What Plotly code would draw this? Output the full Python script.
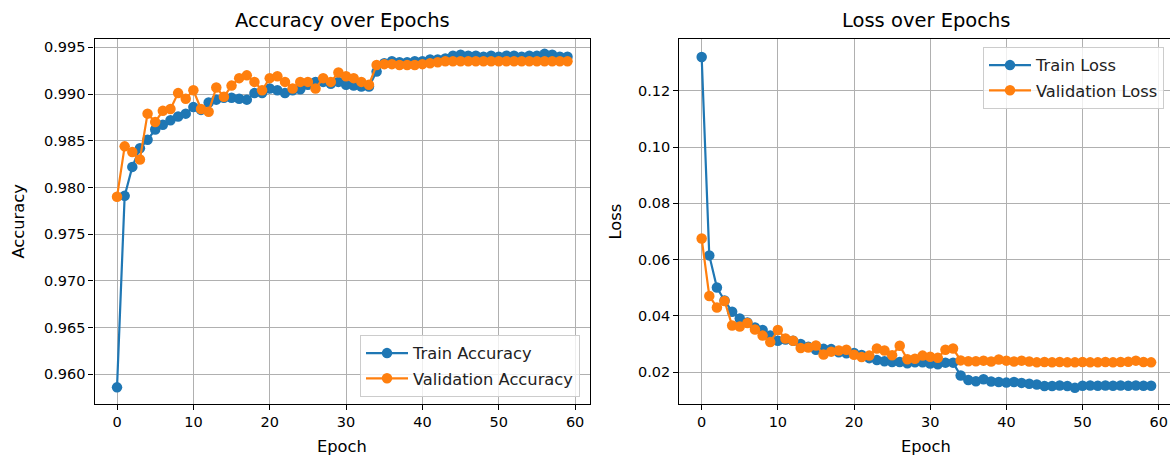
import plotly.graph_objects as go

epochs = list(range(60))

train_acc = [0.9586, 0.9791, 0.9822, 0.9842, 0.9851, 0.9862, 0.9867, 0.9872, 0.9876, 0.9879,
             0.9886, 0.9883, 0.9891, 0.9894, 0.9896, 0.9896, 0.9895, 0.9894, 0.9901, 0.9901,
             0.9906, 0.9904, 0.9901, 0.9904, 0.9905, 0.9910, 0.9913, 0.9913, 0.9911, 0.9913,
             0.9910, 0.9909, 0.9908, 0.9908, 0.9924, 0.9933, 0.9935, 0.9934, 0.9934, 0.9935,
             0.9935, 0.9937, 0.9937, 0.9938, 0.9941, 0.9942, 0.9941, 0.9941, 0.9940, 0.9941,
             0.9940, 0.9941, 0.9941, 0.9940, 0.9941, 0.9941, 0.9943, 0.9942, 0.9940, 0.9940]

val_acc = [0.9790, 0.9844, 0.9838, 0.9830, 0.9879, 0.9870, 0.9882, 0.9884, 0.9901, 0.9895,
           0.9904, 0.9884, 0.9881, 0.9907, 0.9897, 0.9909, 0.9917, 0.9920, 0.9913, 0.9904,
           0.9917, 0.9919, 0.9913, 0.9906, 0.9913, 0.9913, 0.9906, 0.9917, 0.9913, 0.9923,
           0.9919, 0.9917, 0.9913, 0.9910, 0.9931, 0.9932, 0.9932, 0.9931, 0.9931, 0.9931,
           0.9932, 0.9933, 0.9934, 0.9935, 0.9935, 0.9935, 0.9935, 0.9935, 0.9935, 0.9935,
           0.9935, 0.9935, 0.9935, 0.9935, 0.9935, 0.9935, 0.9935, 0.9935, 0.9935, 0.9935]

train_loss = [0.1320, 0.0615, 0.0501, 0.0455, 0.0415, 0.0391, 0.0377, 0.0359, 0.0350, 0.0330,
              0.0312, 0.0316, 0.0312, 0.0300, 0.0290, 0.0280, 0.0283, 0.0282, 0.0271, 0.0267,
              0.0268, 0.0261, 0.0250, 0.0243, 0.0239, 0.0236, 0.0236, 0.0232, 0.0235, 0.0235,
              0.0231, 0.0228, 0.0234, 0.0234, 0.0188, 0.0172, 0.0168, 0.0175, 0.0167, 0.0165,
              0.0163, 0.0165, 0.0162, 0.0159, 0.0156, 0.0151, 0.0151, 0.0153, 0.0151, 0.0145,
              0.0152, 0.0153, 0.0152, 0.0153, 0.0152, 0.0153, 0.0152, 0.0153, 0.0152, 0.0152]

val_loss = [0.0675, 0.0471, 0.0430, 0.0453, 0.0366, 0.0362, 0.0375, 0.0352, 0.0330, 0.0307,
            0.0350, 0.0320, 0.0312, 0.0286, 0.0288, 0.0295, 0.0263, 0.0273, 0.0277, 0.0280,
            0.0262, 0.0254, 0.0259, 0.0284, 0.0277, 0.0260, 0.0294, 0.0246, 0.0248, 0.0259,
            0.0255, 0.0251, 0.0280, 0.0284, 0.0242, 0.0239, 0.0239, 0.0241, 0.0238, 0.0245,
            0.0241, 0.0238, 0.0241, 0.0238, 0.0235, 0.0236, 0.0235, 0.0236, 0.0235, 0.0235,
            0.0236, 0.0235, 0.0235, 0.0236, 0.0235, 0.0236, 0.0237, 0.0241, 0.0236, 0.0235]

acc_ticks = [0.960, 0.965, 0.970, 0.975, 0.980, 0.985, 0.990, 0.995]
loss_ticks = [0.02, 0.04, 0.06, 0.08, 0.10, 0.12]
epoch_ticks = [0, 10, 20, 30, 40, 50, 60]

BLUE = "#1f77b4"
ORANGE = "#ff7f0e"
FONT = "DejaVu Sans"
W, H = 1170, 457
TICK = 14.5
LAB = 16.3
TITLE = 19.5

fig = go.Figure()

def add(x, y, name, color, xa, ya, leg, grp):
    fig.add_trace(go.Scatter(
        x=x, y=y, name=name, mode="lines+markers",
        line=dict(color=color, width=2.2),
        marker=dict(color=color, size=10.5),
        xaxis=xa, yaxis=ya, legend=leg, legendgroup=grp,
    ))

add(epochs, train_acc, "Train Accuracy", BLUE, "x", "y", "legend", "a1")
add(epochs, val_acc, "Validation Accuracy", ORANGE, "x", "y", "legend", "a2")
add(epochs, train_loss, "Train Loss", BLUE, "x2", "y2", "legend2", "b1")
add(epochs, val_loss, "Validation Loss", ORANGE, "x2", "y2", "legend2", "b2")

top_px, bot_px = 39, 404
ydom = [1 - bot_px / H, 1 - top_px / H]

common_ax = dict(
    showgrid=True, gridcolor="#b0b0b0", gridwidth=1.1,
    showline=True, linecolor="black", linewidth=1.1,
    ticks="outside", ticklen=5, tickwidth=1.1, tickcolor="black",
    tickfont=dict(family=FONT, size=TICK, color="black"),
    zeroline=False, automargin=False,
)

leg_common = dict(
    bgcolor="rgba(255,255,255,0.8)", bordercolor="#cccccc", borderwidth=1,
    font=dict(family=FONT, size=LAB, color="#222222"), tracegroupgap=1, itemwidth=42,
)

fig.update_layout(
    width=W, height=H,
    margin=dict(l=0, r=0, t=0, b=0),
    paper_bgcolor="white", plot_bgcolor="white",
    font=dict(family=FONT, color="black"),
    xaxis=dict(domain=[94.5 / W, 590 / W], range=[-2.95, 61.95], anchor="y",
               tickvals=epoch_ticks, mirror=True, **common_ax),
    yaxis=dict(domain=ydom, range=[0.95682, 0.99589], anchor="x",
               tickvals=acc_ticks, tickformat=".3f", mirror=True, **common_ax),
    xaxis2=dict(domain=[679.2 / W, 1.0], range=[-2.95, 61.48], anchor="y2",
                tickvals=epoch_ticks, mirror=True, **common_ax),
    yaxis2=dict(domain=ydom, range=[0.0087, 0.1384], anchor="x2",
                tickvals=loss_ticks, tickformat=".2f", mirror=False, **common_ax),
    legend=dict(x=580 / W, y=1 - 397 / H, xanchor="right", yanchor="bottom", **leg_common),
    legend2=dict(x=1164 / W, y=1 - 47 / H, xanchor="right", yanchor="top", **leg_common),
)

def ann(text, x, y, size, angle=0):
    fig.add_annotation(text=text, x=x / W, y=1 - y / H, xref="paper", yref="paper",
                       xanchor="center", yanchor="middle", showarrow=False,
                       textangle=angle, font=dict(family=FONT, size=size, color="black"))

ann("Accuracy over Epochs", (94.5 + 590) / 2, 20, TITLE)
ann("Loss over Epochs", (679.2 + 1173.6) / 2, 20, TITLE)
ann("Epoch", (94.5 + 590) / 2, 446, LAB)
ann("Epoch", (679.2 + 1173.6) / 2, 446, LAB)
ann("Accuracy", 18, (top_px + bot_px) / 2, LAB, -90)
ann("Loss", 615, (top_px + bot_px) / 2, LAB, -90)

fig.write_html("out.html", config={"displayModeBar": False},
               post_script="document.body.style.margin='0';")
